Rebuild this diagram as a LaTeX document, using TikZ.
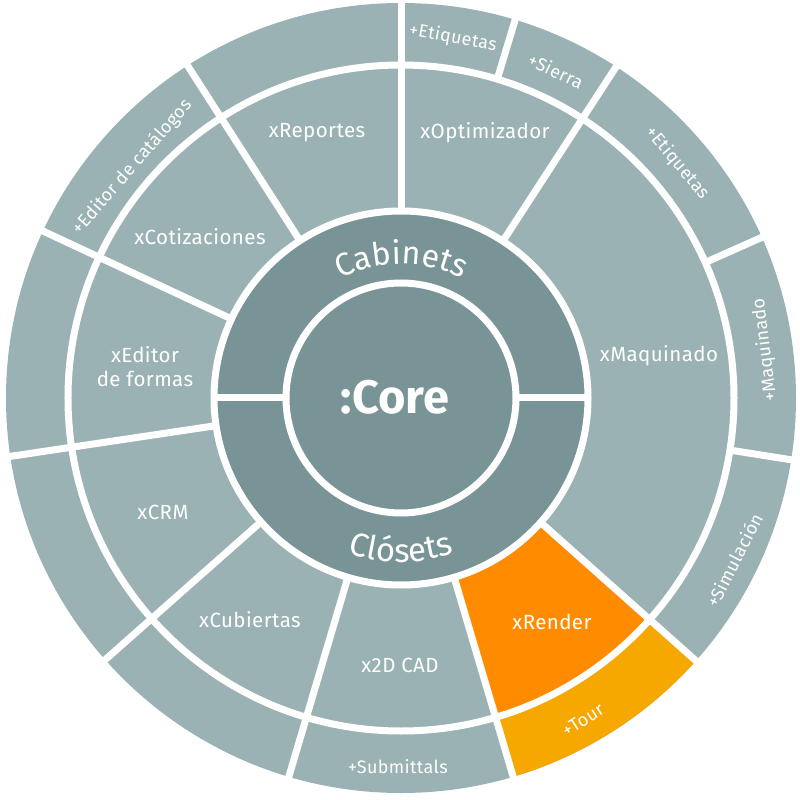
\documentclass[tikz,border=0pt]{standalone}
\usepackage{fontspec}
\setmainfont{Fira Sans}[BoldFont={* Bold}, LetterSpace=2]
\newfontfamily\arcfont{Fira Sans}[LetterSpace=9]
\newfontfamily\corefont{Fira Sans}[UprightFont={* Bold}]
\usetikzlibrary{decorations.text}
\definecolor{lgray}{RGB}{155,178,181}
\definecolor{dgray}{RGB}{121,148,150}
\definecolor{orng}{RGB}{255,140,0}
\definecolor{ambr}{RGB}{247,168,0}
\begin{document}
\begin{tikzpicture}[x=1pt,y=1pt,
  sep/.style={white, line width=7pt},
  ringgap/.style={white, line width=7pt},
  modlbl/.style={text=white, font=\fontsize{20.5}{24}\selectfont, align=center, inner sep=0pt},
  outlbl/.style={text=white, font=\fontsize{18}{21}\selectfont, inner sep=0pt},
  arctext/.style={decorate, decoration={text along path, text align=center, text color=white, text={#1}}}
]
\useasboundingbox (-401,-402) rectangle (399,398);
% base disk
\fill[lgray] (0,0) circle[radius=395];
\fill[dgray] (0,0) circle[radius=187];
% highlighted sectors
\fill[orng] (-73.5:187) arc[start angle=-73.5, end angle=-41.7, radius=187]
  -- (-41.7:333) arc[start angle=-41.7, end angle=-73.5, radius=333] -- cycle;
\fill[ambr] (-73.5:333) arc[start angle=-73.5, end angle=-41.7, radius=333]
  -- (-41.7:395) arc[start angle=-41.7, end angle=-73.5, radius=395] -- cycle;
% ring gaps
\draw[ringgap] (0,0) circle[radius=115];
\draw[ringgap] (0,0) circle[radius=187];
\draw[ringgap] (0,0) circle[radius=333];
% separators
\draw[sep] (0:115) -- (0:187);
\draw[sep] (180:115) -- (180:187);
\foreach \a in {90,57,-41.7,-73.5,-106.5,-138.5,188.5,155,122.7}
  \draw[sep] (\a:187) -- (\a:402);
\foreach \a in {73.2,24,-9}
  \draw[sep] (\a:333) -- (\a:402);
% core
\node[text=white, font=\corefont\fontsize{47}{47}\selectfont, inner sep=0pt] (core) at (-6,1) {:Core};
% curved ring-2 labels
\path[arctext={|\arcfont\fontsize{32}{32}\selectfont|Cabinets}] (150:134) arc[start angle=150, end angle=30, radius=134];
\path[arctext={|\arcfont\fontsize{33}{33}\selectfont|Cl{ó}sets}] (-150:164) arc[start angle=-150, end angle=-30, radius=164];
% module labels
\node[modlbl] (rep) at (-84,265) {xReportes};
\node[modlbl] (opt) at (84,265) {xOptimizador};
\node[modlbl] (cot) at (-201,161) {xCotizaciones};
\node[modlbl] (edf) at (-256,31) {xEditor\\de formas};
\node[modlbl] (crm) at (-238,-114) {xCRM};
\node[modlbl] (cub) at (-151,-222) {xCubiertas};
\node[modlbl] (cad) at (-1,-267) {x2D CAD};
\node[modlbl] (ren) at (151,-224) {xRender};
\node[modlbl] (maq) at (258,42) {xMaquinado};
% outer labels
\node[outlbl, rotate=-10] (etq1) at (52,360) {+Etiquetas};
\node[outlbl, rotate=-25] (sie) at (155,327) {+Sierra};
\node[outlbl, rotate=-50] (etq2) at (276,235) {+Etiquetas};
\node[outlbl, rotate=97] (pmaq) at (364,48) {+Maquinado};
\node[outlbl, rotate=63] (sim) at (333,-162) {+Simulación};
\node[outlbl, rotate=33] (tour) at (182,-322) {+Tour};
\node[outlbl] (sub) at (-3,-369) {+Submittals};
\node[outlbl, rotate=49] (cat) at (-269,231) {+Editor de catálogos};
\end{tikzpicture}
\end{document}
